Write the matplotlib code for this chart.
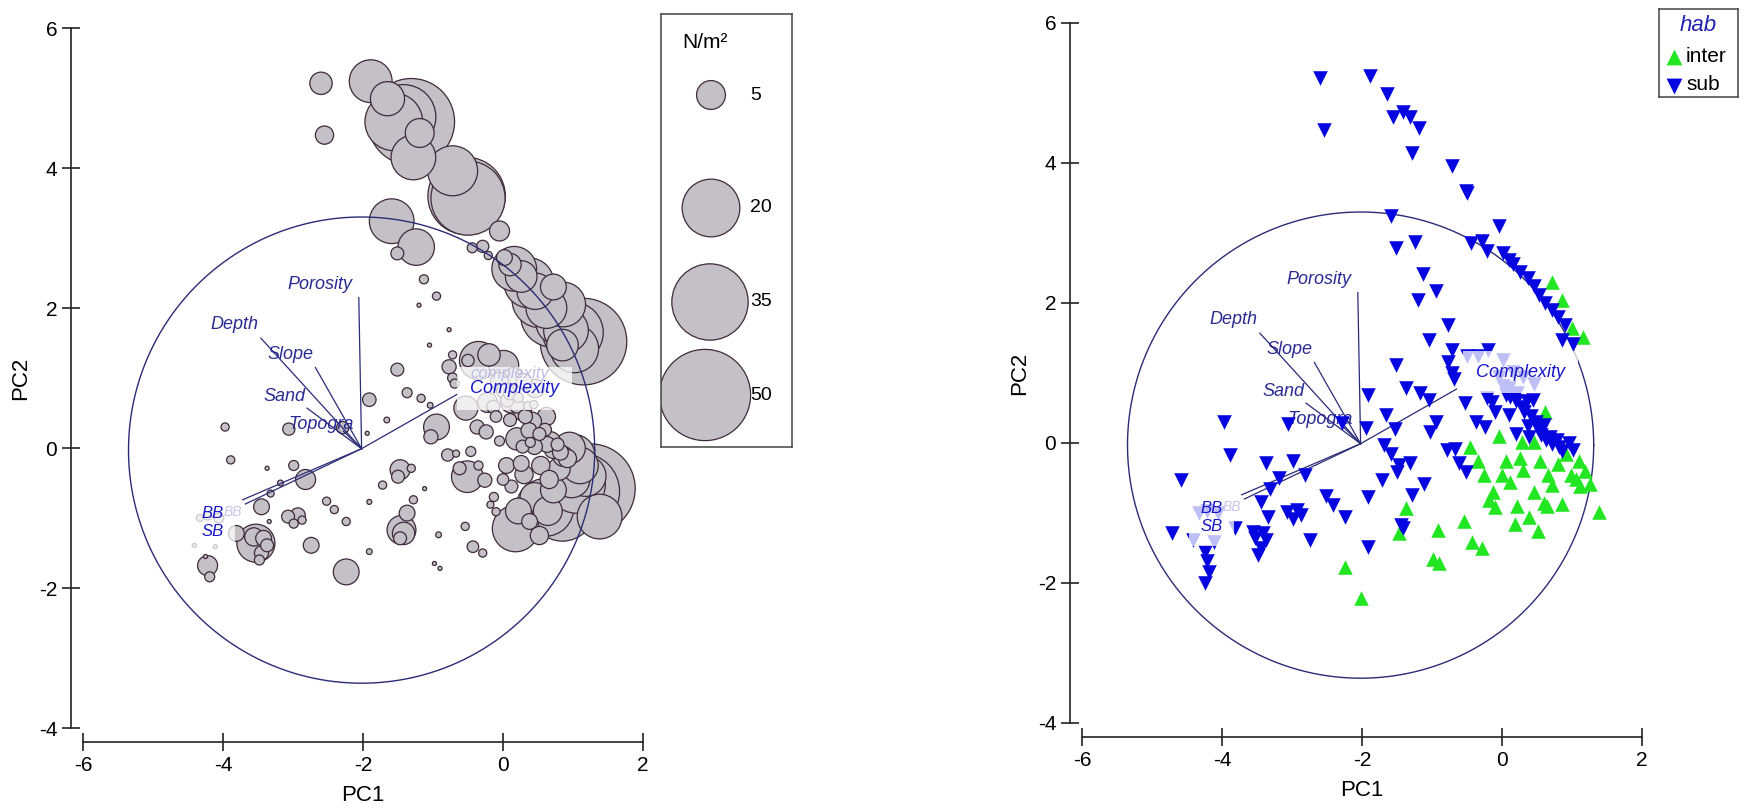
import numpy as np
import matplotlib.pyplot as plt

plt.rcParams['font.family'] = ['Liberation Sans', 'DejaVu Sans']
plt.rcParams['axes.unicode_minus'] = False

# --- 1. SAMPLE SCORES (PC1, PC2), HABITAT AND DENSITY (N/m2) ---
# top of the plot (all subtidal)
pc1 = [-2.60, -2.55, -1.89, -1.65, -1.56, -1.42, -1.31, -1.19, -1.28, -0.72,
       -0.52, -0.50, -1.59, -1.51, -1.24, -1.13, -0.95, -1.20, -0.77, -1.05, -1.51]
pc2 = [5.21, 4.47, 5.24, 4.99, 4.66, 4.73, 4.66, 4.50, 4.15, 3.96,
       3.60, 3.57, 3.24, 2.78, 2.87, 2.41, 2.17, 2.04, 1.69, 1.47, 1.12]
hab = ['sub'] * 21
density = [3, 2, 11, 7, 20, 25, 45, 5, 12, 15,
           36, 33, 12, 1, 8, 0.5, 0.4, 0.1, 0.1, 0.1, 1]

# band along the circle edge
pc1 += [-0.44, -0.29, -0.21, -0.05, 0.02, 0.10, 0.16, 0.26, 0.37, 0.46, 0.53,
        0.62, 0.71, 0.80, 0.90, 0.72, 0.86, 1.00, 1.15, 1.02, 0.85]
pc2 += [2.86, 2.88, 2.75, 3.10, 2.72, 2.62, 2.56, 2.45, 2.36, 2.24, 2.12,
        2.00, 1.90, 1.80, 1.68, 2.30, 2.05, 1.65, 1.52, 1.42, 1.47]
hab += ['sub'] * 15 + ['inter'] * 4 + ['sub'] * 2
density += [0.6, 0.9, 0.4, 2.4, 1.5, 3, 12, 6, 15, 8, 19,
            10, 25, 13, 12, 4, 12, 22, 45, 14, 6]

# around the Complexity label
pc1 += [-0.72, -0.77, -0.72, -0.69, -0.50, -0.35, -0.20, 0.01, 0.15, 0.30,
        0.46, -0.22, 0.06, -0.53, -0.14]
pc2 += [1.33, 1.16, 1.00, 0.92, 1.25, 1.25, 1.33, 1.18, 1.02, 0.95,
        0.85, 0.65, 0.68, 0.57, 0.59]
hab += ['sub'] * 15
density += [0.4, 1.2, 0.6, 0.5, 0.9, 8.7, 3, 5.4, 2, 1.5,
            2, 2.4, 1, 3.5, 1]

# left half
pc1 += [-1.91, -1.37, -1.17, -1.04, -1.66, -1.53, -1.94, -2.29, -3.06, -3.97,
        -3.89, -3.37, -2.99, -3.18, -2.82, -3.32, -3.45, -3.34, -3.53, -3.42,
        -3.37, -3.45, -3.48, -3.56, -3.07, -2.93, -2.99, -2.87, -2.74, -2.52,
        -2.41, -2.24, -1.91, -1.91, -4.58, -4.72, -4.33, -4.22, -4.06, -3.81,
        -4.41, -4.11, -4.25, -4.22, -4.19, -4.25]
pc2 += [0.69, 0.79, 0.71, 0.61, 0.40, 0.20, 0.21, 0.29, 0.27, 0.30,
        -0.17, -0.29, -0.25, -0.50, -0.45, -0.65, -0.84, -1.05, -1.36, -1.29,
        -1.39, -1.50, -1.60, -1.27, -0.98, -0.96, -1.08, -1.03, -1.39, -0.76,
        -0.88, -1.05, -0.77, -1.48, -0.53, -1.29, -1.00, -0.97, -1.00, -1.22,
        -1.39, -1.41, -1.55, -1.68, -1.84, -2.00]
hab += ['sub'] * 46
density += [1.1, 0.6, 0.4, 0.2, 0.2, 0, 0.1, 0.9, 0.9, 0.4,
            0.4, 0.1, 0.6, 0.2, 2.4, 0.3, 1.5, 0.1, 8.7, 1.5,
            1.0, 1.2, 0.6, 2, 1.0, 1.3, 0.5, 0.4, 1.5, 0.4,
            0.4, 0.4, 0.15, 0.2, 0, 0, 0.3, 0.4, 0.6, 1.5,
            0.1, 0.1, 0.1, 2.4, 0.6, 0]

# centre
pc1 += [-1.68, -1.58, -1.47, -1.31, -1.50, -1.72, -1.12, -1.28, -1.45, -1.42,
        -1.03, -0.95, -0.79, -0.67, -0.62, -0.51, -0.24, -0.37]
pc2 += [-0.03, -0.15, -0.31, -0.29, -0.41, -0.53, -0.58, -0.74, -1.17, -1.22,
        0.16, 0.30, -0.10, -0.08, -0.29, -0.41, 0.23, 0.30]
hab += ['sub'] * 18
density += [0, 0, 2.4, 0.4, 1, 0.4, 0.1, 0.4, 5, 3,
            1.2, 4, 0.9, 0.3, 1, 6, 1.2, 1.2]

# dense subtidal cluster on the right
pc1 += [-0.05, 0.02, 0.10, 0.12, 0.20, 0.22, 0.28, 0.32, 0.36, 0.37,
        0.42, 0.44, 0.48, 0.52, 0.56, 0.60, 0.63, 0.68, 0.72, 0.78,
        0.82, 0.86, 0.20, 0.39, 0.10, -0.10, 0.95, 1.02]
pc2 += [0.95, 0.82, 0.78, 0.66, 0.60, 0.72, 0.52, 0.45, 0.60, 0.25,
        0.38, 0.62, 0.30, 0.20, 0.12, 0.26, 0.05, 0.09, -0.02, 0.05,
        -0.06, -0.12, 0.13, 0.08, 0.40, 0.45, 0.00, -0.10]
hab += ['sub'] * 28
density += [2, 1.5, 1, 3, 1.2, 0.6, 2, 1.2, 0.5, 1.5,
            2, 0.4, 3, 1, 2.4, 1, 1.5, 2.4, 2, 1,
            1.5, 2.4, 3, 0.6, 1, 0.8, 6, 10]

# intertidal samples
pc1 += [-0.46, -0.26, -0.13, -0.18, -0.10, -1.37, -1.47, -0.92, -0.54, -0.43,
        -0.29, -0.98, -0.90, -2.24, -2.02, 0.05, 0.12, 0.18, 0.22, 0.30,
        0.26, 0.38, 0.45, 0.52, 0.54, 0.60, 0.64, 0.66, 0.72, 0.80,
        0.85, 0.92, 0.98, 1.05, 1.12, 1.18, 1.25, 1.38, 1.10, 0.28,
        0.45, -0.05, 0.62, -0.35, 0.00]
pc2 += [-0.05, -0.46, -0.70, -0.81, -0.91, -0.93, -1.29, -1.24, -1.12, -1.41,
        -1.50, -1.65, -1.72, -1.77, -2.22, -0.25, -0.55, -1.15, -0.90, -0.38,
        -0.22, -1.05, -0.70, -1.25, -0.25, -0.85, -0.90, -0.45, -0.60, -0.30,
        -0.87, -0.15, -0.45, -0.52, -0.62, -0.40, -0.58, -0.98, -0.25, 0.02,
        0.02, 0.10, 0.45, -0.25, -0.45]
hab += ['inter'] * 45
density += [0.6, 1.2, 0.5, 0.3, 0.4, 1.5, 1, 0.2, 0.4, 0.8,
            0.4, 0.1, 0.1, 4, 0, 1.5, 1, 13, 4, 2,
            1.5, 1.5, 5, 2, 2, 20, 5, 2, 4, 3,
            25, 2, 8, 20, 35, 10, 48, 12, 8, 1,
            1.5, 0.6, 2, 0.5, 0.8]

pc1 = np.array(pc1)
pc2 = np.array(pc2)
hab = np.array(hab)
density = np.array(density, dtype=float)

# --- 2. ENVIRONMENTAL VECTORS ---
vec_origin = (-2.02, -0.01)
vec_names = ['Porosity', 'Depth', 'Slope', 'Sand', 'Topogra', 'Complexity', 'BB', 'SB']
vec_x = [-2.06, -3.46, -2.68, -2.80, -2.28, -0.65, -3.72, -3.68]
vec_y = [2.15, 1.57, 1.15, 0.57, 0.24, 0.77, -0.74, -0.80]

# correlation circle
circle_center = (-2.02, -0.03)
circle_radius = 3.33

# legend
legend_N = [5, 20, 35, 50]

NAVY = '#2b2b78'
LABEL_BLUE = '#2a2a92'
BRIGHT_BLUE = '#1616c8'
SUB_BLUE = '#0505e0'
INTER_GREEN = '#22e622'
BUBBLE_K = 86.3  # points^2 per N/m2


def style_axes(ax):
    ax.set_xlim(-6, 2)
    ax.set_ylim(-4, 6)
    for sp in ['top', 'right']:
        ax.spines[sp].set_visible(False)
    ax.spines['left'].set_position(('outward', 8.6))
    ax.spines['bottom'].set_position(('outward', 10))
    ax.spines['left'].set_bounds(-4, 6)
    ax.spines['bottom'].set_bounds(-6, 2)
    for sp in ['left', 'bottom']:
        ax.spines[sp].set_linewidth(1.2)
        ax.spines[sp].set_color('#222222')
    ax.set_xticks([-6, -4, -2, 0, 2])
    ax.set_yticks([-4, -2, 0, 2, 4, 6])
    ax.tick_params(direction='inout', length=13, width=1.2, labelsize=15, pad=3.5,
                   color='#222222')
    ax.set_xlabel('PC1', fontsize=16)
    ax.set_ylabel('PC2', fontsize=16)
    ax.xaxis.set_label_coords(0.5, -0.081)
    ax.yaxis.set_label_coords(-0.092, 0.5)
    ax.patch.set_visible(False)


def draw_biplot(ax, z_low, z_text, complexity_xy):
    theta = np.linspace(0, 2 * np.pi, 400)
    ax.plot(circle_center[0] + circle_radius * np.cos(theta),
            circle_center[1] + circle_radius * np.sin(theta),
            color=NAVY, lw=1.0, zorder=z_low)
    for name, x, y in zip(vec_names, vec_x, vec_y):
        ax.plot([vec_origin[0], x], [vec_origin[1], y], color=NAVY, lw=0.9, zorder=z_low)
    lab = dict(fontsize=13, style='italic', color=LABEL_BLUE, zorder=z_text)
    ax.text(-2.62, 2.33, 'Porosity', ha='center', va='center', **lab)
    ax.text(-3.84, 1.76, 'Depth', ha='center', va='center', **lab)
    ax.text(-3.03, 1.33, 'Slope', ha='center', va='center', **lab)
    ax.text(-3.12, 0.74, 'Sand', ha='center', va='center', **lab)
    ax.text(-3.06, 0.34, 'Topogra', ha='left', va='center', **lab)
    box = dict(boxstyle='square,pad=0.7', fc='white', ec='none', alpha=0.75)
    ax.text(complexity_xy[0], complexity_xy[1], 'Complexity', ha='left', va='center',
            fontsize=13, style='italic', color=BRIGHT_BLUE, bbox=box, zorder=5)
    ax.text(-4.15, -1.07, 'BB\nSB', ha='center', va='center', linespacing=1.25,
            fontsize=12, style='italic', color=BRIGHT_BLUE, bbox=box, zorder=5)
    ax.text(-3.86, -0.92, 'BB', ha='center', va='center', fontsize=10,
            style='italic', color='#c6c6ee', zorder=6)


fig = plt.figure(figsize=(17.5, 8.1), dpi=100)

# --- 3. LEFT: BUBBLES SIZED BY DENSITY ---
ax1 = fig.add_axes([83 / 1750, 82 / 810, 560 / 1750, 700 / 810])
style_axes(ax1)
order = np.argsort(-density)
ax1.scatter(pc1[order], pc2[order], s=BUBBLE_K * density[order], facecolor='#c3c1c6',
            edgecolor='#3f2a3a', linewidth=0.9, zorder=2, clip_on=False)
draw_biplot(ax1, 3, 4, (-0.47, 0.85))
ax1.text(0.10, 1.07, 'complexity', ha='center', va='center', fontsize=12,
         style='italic', color='#bcbce6', zorder=6)

# size legend
lg1 = fig.add_axes([661 / 1750, 363 / 810, 131 / 1750, 433 / 810])
lg1.set_xlim(661, 792)
lg1.set_ylim(447, 14)
lg1.set_xticks([])
lg1.set_yticks([])
for sp in lg1.spines.values():
    sp.set_color('#444444')
    sp.set_linewidth(1.1)
leg_x = [711, 711, 710, 705]
leg_y = [95, 208, 302, 395]
lg1.scatter(leg_x, leg_y, s=[BUBBLE_K * n for n in legend_N], facecolor='#c3c1c6',
            edgecolor='#3f2a3a', linewidth=0.9)
for n, y in zip(legend_N, leg_y):
    lg1.text(750, y, str(n), fontsize=14, va='center', ha='left')
lg1.text(682, 42, 'N/m²', fontsize=15, va='center', ha='left')

# --- 4. RIGHT: SYMBOLS BY HABITAT ---
ax2 = fig.add_axes([1082 / 1750, 87 / 810, 560 / 1750, 700 / 810])
style_axes(ax2)
draw_biplot(ax2, 1, 1.5, (-0.37, 1.01))
is_inter = hab == 'inter'
ax2.scatter(pc1[is_inter], pc2[is_inter], marker='^', s=110, color=INTER_GREEN,
            linewidth=0, zorder=2)
ax2.scatter(pc1[~is_inter], pc2[~is_inter], marker='v', s=110, color=SUB_BLUE,
            linewidth=0, zorder=2.5)

lg2 = fig.add_axes([1659 / 1750, 713 / 810, 79 / 1750, 88 / 810])
lg2.set_xlim(1659, 1738)
lg2.set_ylim(97, 9)
lg2.set_xticks([])
lg2.set_yticks([])
for sp in lg2.spines.values():
    sp.set_color('#444444')
    sp.set_linewidth(1.1)
lg2.text(1698, 25, 'hab', fontsize=16, style='italic', color='#2020b0',
         ha='center', va='center')
lg2.scatter([1674], [57], marker='^', s=130, color=INTER_GREEN, linewidth=0)
lg2.scatter([1674], [86], marker='v', s=130, color=SUB_BLUE, linewidth=0)
lg2.text(1686, 56, 'inter', fontsize=15, va='center', ha='left')
lg2.text(1686, 85, 'sub', fontsize=15, va='center', ha='left')

fig.savefig('out.png', dpi=100)
